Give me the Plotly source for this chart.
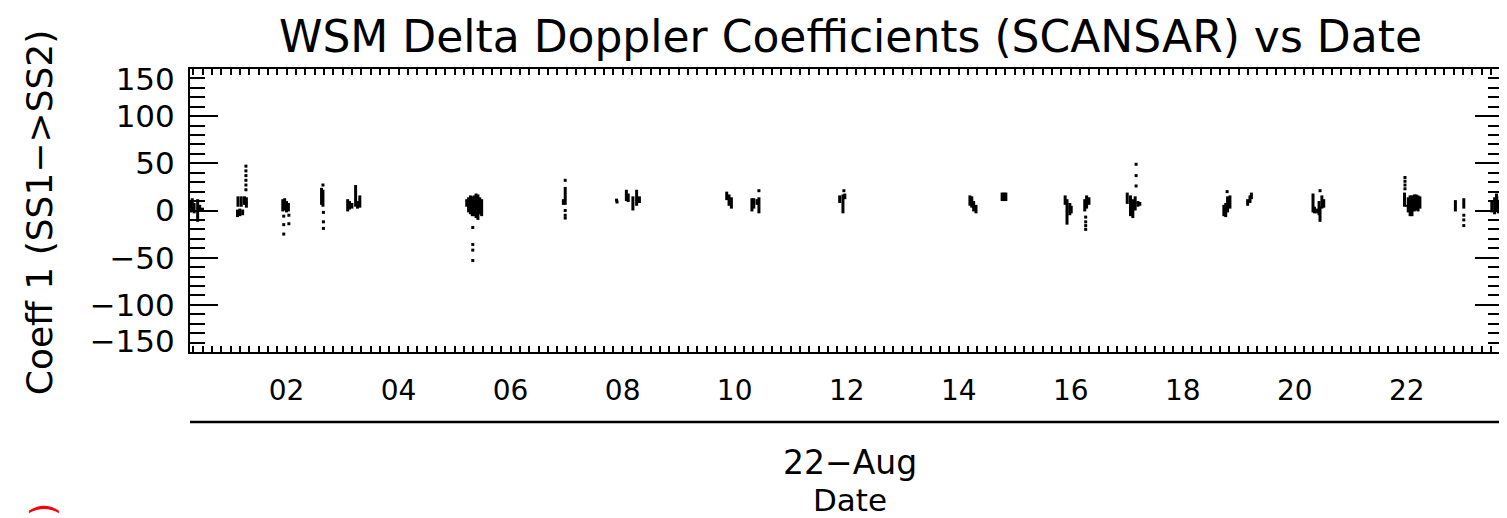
import pandas as pd
import plotly.graph_objects as go

DAY = "2004-08-22"

# Vertical runs of samples: minute of day, upper value, lower value
stroke_minutes = [17, 19, 21, 24.8, 27, 30,
                  67.5, 68, 70, 71.5, 73, 75, 77,
                  116, 118, 120, 122,
                  157.5, 159,
                  185.5, 187.5, 190, 194, 196, 198.5,
                  313, 315, 317, 319, 321, 323, 325, 327, 329,
                  416.5, 418.5,
                  484, 486, 491, 495, 498,
                  591.5, 594, 596.5,
                  618.5, 620.5, 624, 626,
                  712.5, 716, 718,
                  852, 854, 856, 858.5,
                  886.5, 888.5, 890.5,
                  954, 956, 959, 960.5,
                  975, 977, 979.5,
                  1020.5, 1024, 1026.5, 1029, 1032, 1034,
                  1124, 1126, 1128, 1130.5,
                  1149.5, 1152, 1153.5,
                  1219.5, 1221, 1223.5, 1226, 1227, 1229, 1231,
                  1317.5, 1319.5, 1321.5, 1323.5, 1325.5, 1328, 1330, 1332, 1334,
                  1372, 1381,
                  1411, 1414, 1416, 1418, 1420]
stroke_high = [10, 13, 8, 12, 6, 3,
               1, 15, 2, 15, 1, 15, 14,
               12, 13, 10, 8,
               24, 22,
               12, 10, 8, 27, 10, 16,
               12, 14, 16, 15, 16, 18, 17, 14, 12,
               12, 25,
               22, 18, 15, 22, 15,
               20, 17, 14,
               13, 13, 12, 14,
               16, 17, 18,
               16, 15, 10, 6,
               19, 19, 19,
               16, 12, 8, 5,
               12, 16, 14,
               19, 16, 12, 15, 10, 9,
               6, 8, 15, 16,
               12, 16, 19,
               18, 4, 2, 10, 4, 16, 12,
               19, 6, 14, 16, 16, 17, 17, 16, 15,
               11, 13,
               10, 14, 18, 10, 15]
stroke_low = [-2, 0, -3, -12, 0, 0,
              -7, 4, -6, 4, -5, 6, 3,
              -1, 0, -2, -1,
              6, 4,
              -1, 1, 2, 4, 2, 3,
              4, -2, -4, -6, -6, -8, -10, -4, -6,
              6, 6,
              10, 9, 0, 5, 8,
              11, 5, 2,
              -1, 2, 6, -3,
              8, -3, 12,
              5, 3, -1, -3,
              10, 10, 10,
              6, -15, -5, -3,
              -1, 2, 6,
              7, -6, -8, 0, 4, 5,
              -6, -7, -2, 2,
              5, 8, 12,
              -2, -3, -3, -5, -12, 2, 3,
              4, 4, -2, -6, -6, -1, 0, -1, 2,
              -1, 2,
              -2, -4, 0, -3, -2]

# Isolated samples: minute of day, value
dot_minutes = [76.5, 76.5, 76.5, 76.5, 76.5, 76.5,
               117, 122.5, 117, 122.5, 117,
               159, 159.5, 159.5, 159.5,
               319.5, 319.5, 319.5, 319.5,
               418.5, 418.5, 418.5, 418.5,
               473.5, 474,
               626, 717,
               976, 976, 976, 976,
               1030, 1030, 1030,
               1127.5, 1227,
               1318, 1318, 1318, 1318,
               1381, 1381, 1381]
dot_values = [47, 42, 37, 32, 27, 22,
              -6, -5, -15, -14, -25,
              27, -2, -12, -19,
              -18, -36, -42, -53,
              32, 0, -5, -8,
              11, 9,
              21, 21,
              -7, -12, -16, -20,
              49, 37, 26,
              20, 21,
              35, 31, 27, 23,
              -5, -10, -16]

y_major = [-150, -100, -50, 0, 50, 100, 150]
y_label_pos = [-139, -100, -50, 0, 50, 100, 139]
y_labels = ["\u2212150", "\u2212100", "\u221250", "0", "50", "100", "150"]

base = pd.Timestamp(DAY)
def tm(m):
    return base + pd.to_timedelta(m, unit="min")

sx, sy = [], []
for m, hi, lo in zip(stroke_minutes, stroke_high, stroke_low):
    sx += [tm(m), tm(m), None]
    sy += [hi, lo, None]

FONT = "DejaVu Sans"
W, H = 1499, 510  # page body margin of 8px shifts the figure

fig = go.Figure()
fig.add_trace(go.Scatter(x=sx, y=sy, mode="lines", connectgaps=False,
                         line=dict(color="black", width=3), showlegend=False,
                         hoverinfo="skip"))
fig.add_trace(go.Scatter(x=[tm(m) for m in dot_minutes], y=dot_values, mode="markers",
                         marker=dict(symbol="square", size=3, color="black"),
                         showlegend=False))
fig.add_trace(go.Scatter(x=[None], y=[None], yaxis="y2", showlegend=False))

x_start = tm(16.6)
x_end = tm(1423)

fig.update_layout(
    width=W, height=H,
    margin=dict(l=182, r=2, t=61, b=166),
    paper_bgcolor="white", plot_bgcolor="white",
    title=dict(text="WSM Delta Doppler Coefficients (SCANSAR) vs Date",
               x=0.503, xref="paper", xanchor="center",
               y=1 - 29 / H, yref="container", yanchor="middle",
               font=dict(family=FONT, size=44, color="black")),
    xaxis=dict(type="date", range=[x_start, x_end], tickformat="%H",
               tick0=DAY + " 00:00", dtick=7200000,
               ticks="inside", ticklen=6, tickwidth=2, tickcolor="black",
               minor=dict(dtick=600000, ticks="inside", ticklen=3, tickwidth=1.5,
                          tickcolor="black", showgrid=False),
               showline=True, linewidth=2, linecolor="black", mirror="allticks",
               showgrid=False, zeroline=False, ticklabelstandoff=12,
               tickfont=dict(family=FONT, size=28, color="black")),
    yaxis=dict(range=[-150, 150], tickmode="array", tickvals=y_label_pos,
               ticktext=y_labels, ticks="", showline=True, linewidth=2,
               linecolor="black", mirror=True, showgrid=False, zeroline=False,
               ticklabelstandoff=7,
               tickfont=dict(family=FONT, size=31, color="black")),
    yaxis2=dict(range=[-150, 150], overlaying="y", side="left",
                tickmode="array", tickvals=y_major, showticklabels=False,
                ticks="inside", ticklen=28, tickwidth=2, tickcolor="black",
                minor=dict(dtick=10, ticks="inside", ticklen=15, tickwidth=2,
                           tickcolor="black", showgrid=False),
                showline=True, linewidth=2, linecolor="black", mirror="allticks",
                showgrid=False, zeroline=False),
)

fig.add_shape(type="line", xref="paper", yref="paper",
              x0=0, x1=1.0015, y0=-0.247, y1=-0.247,
              line=dict(color="black", width=2.5))
fig.add_annotation(text="22\u2212Aug", xref="paper", yref="paper", x=0.503, y=-0.392,
                   xanchor="center", yanchor="middle", showarrow=False,
                   font=dict(family=FONT, size=33, color="black"))
fig.add_annotation(text="Date", xref="paper", yref="paper", x=0.503, y=-0.523,
                   xanchor="center", yanchor="middle", showarrow=False,
                   font=dict(family=FONT, size=31, color="black"))
fig.add_annotation(text="Coeff 1 (SS1\u2212>SS2)", xref="paper", yref="paper",
                   x=-0.114, y=0.495, textangle=-90, xanchor="center", yanchor="middle",
                   showarrow=False, font=dict(family=FONT, size=36, color="black"))
fig.add_annotation(text=")", xref="paper", yref="paper",
                   x=-0.1125, y=-0.557, textangle=-90, xanchor="center", yanchor="middle",
                   showarrow=False, font=dict(family=FONT, size=34, color="red"))

fig.write_html("out.html")
